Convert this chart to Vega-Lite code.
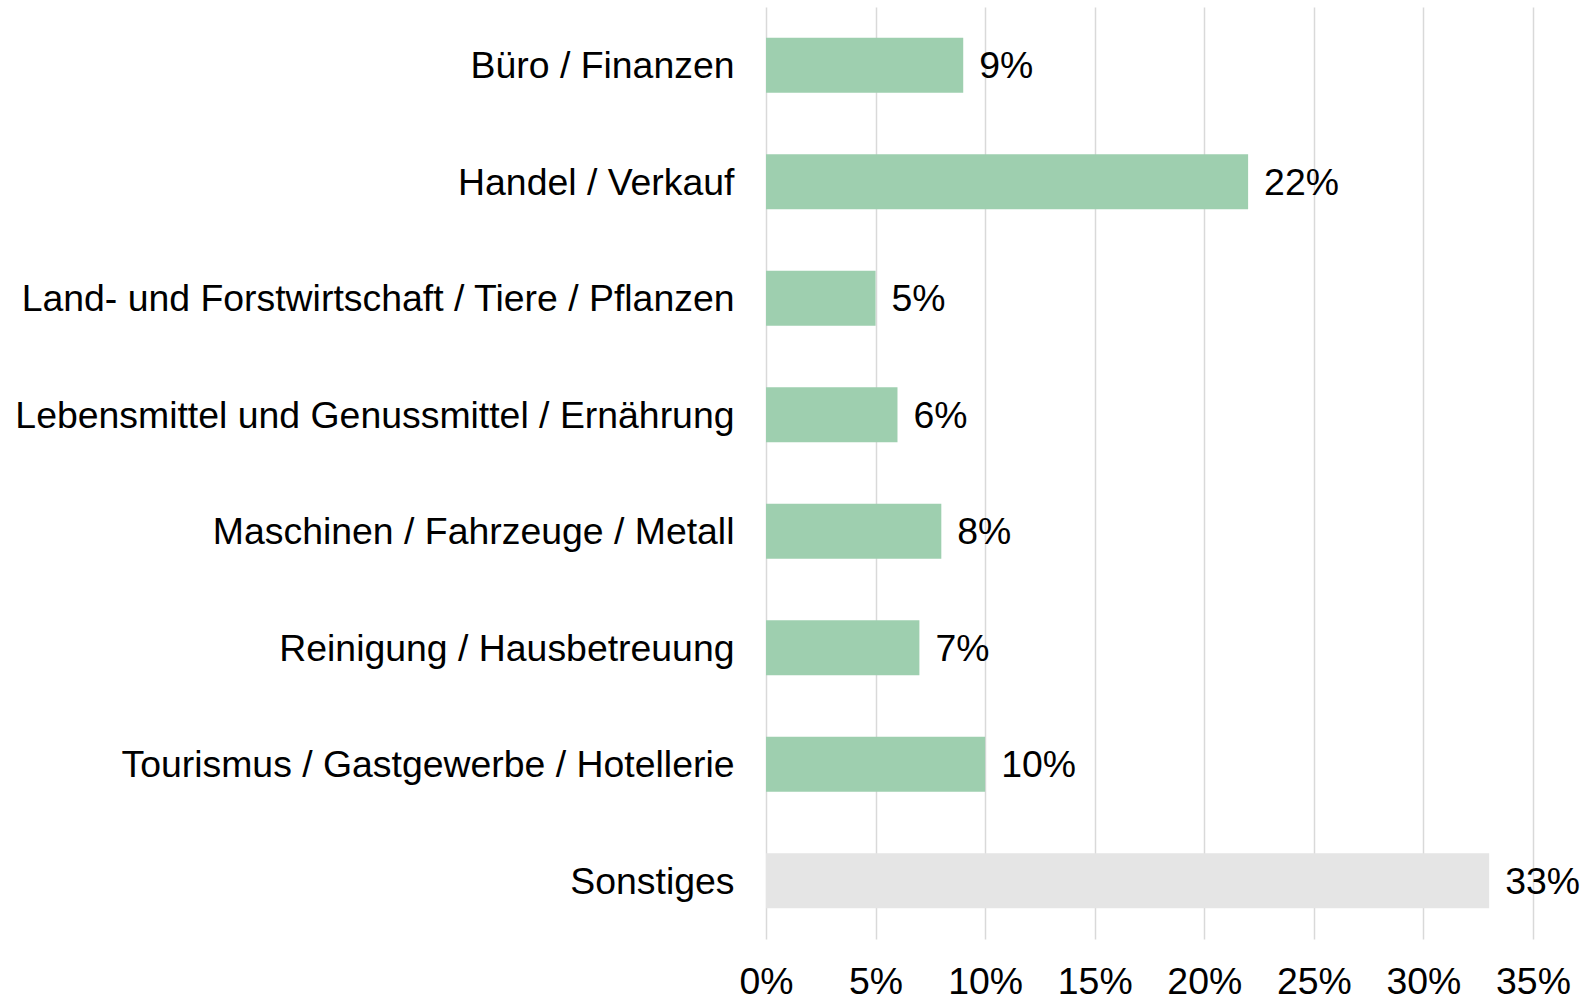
{
  "$schema": "https://vega.github.io/schema/vega-lite/v6.json",
  "width": 767,
  "height": 932,
  "autosize": {"type": "none"},
  "padding": {"left": 766, "top": 7, "right": 50, "bottom": 62},
  "background": "white",
  "config": {
    "view": {"stroke": null},
    "font": "Liberation Sans"
  },
  "data": {
    "values": [
      {"category": "Büro / Finanzen", "value": 0.09, "group": "main"},
      {"category": "Handel / Verkauf", "value": 0.22, "group": "main"},
      {"category": "Land- und Forstwirtschaft / Tiere / Pflanzen", "value": 0.05, "group": "main"},
      {"category": "Lebensmittel und Genussmittel / Ernährung", "value": 0.06, "group": "main"},
      {"category": "Maschinen / Fahrzeuge / Metall", "value": 0.08, "group": "main"},
      {"category": "Reinigung / Hausbetreuung", "value": 0.07, "group": "main"},
      {"category": "Tourismus / Gastgewerbe / Hotellerie", "value": 0.10, "group": "main"},
      {"category": "Sonstiges", "value": 0.33, "group": "other"}
    ]
  },
  "encoding": {
    "y": {
      "field": "category",
      "type": "nominal",
      "sort": null,
      "scale": {"paddingInner": 0.53, "paddingOuter": 0.265},
      "axis": {
        "title": null,
        "domain": false,
        "ticks": false,
        "labelFontSize": 37.4,
        "labelColor": "#000000",
        "labelPadding": 32,
        "labelOffset": 2,
        "labelLimit": 800,
        "labelFont": "Liberation Sans"
      }
    },
    "x": {
      "field": "value",
      "type": "quantitative",
      "scale": {"domain": [0, 0.35], "nice": false},
      "axis": {
        "title": null,
        "format": ".0%",
        "values": [0, 0.05, 0.1, 0.15, 0.2, 0.25, 0.3, 0.35],
        "domain": false,
        "ticks": false,
        "grid": true,
        "gridColor": "#D9D9D9",
        "gridWidth": 1.5,
        "labelFontSize": 37.4,
        "labelColor": "#000000",
        "labelPadding": 24,
        "labelFlush": false,
        "labelFont": "Liberation Sans"
      }
    }
  },
  "layer": [
    {
      "mark": {"type": "bar"},
      "encoding": {
        "color": {
          "field": "group",
          "type": "nominal",
          "scale": {"domain": ["main", "other"], "range": ["#9ECFAF", "#E5E5E5"]},
          "legend": null
        }
      }
    },
    {
      "mark": {"type": "text", "align": "left", "baseline": "middle", "dx": 16, "dy": 2, "fontSize": 37.4, "color": "#000000", "font": "Liberation Sans"},
      "encoding": {
        "text": {"field": "value", "type": "quantitative", "format": ".0%"}
      }
    }
  ]
}
